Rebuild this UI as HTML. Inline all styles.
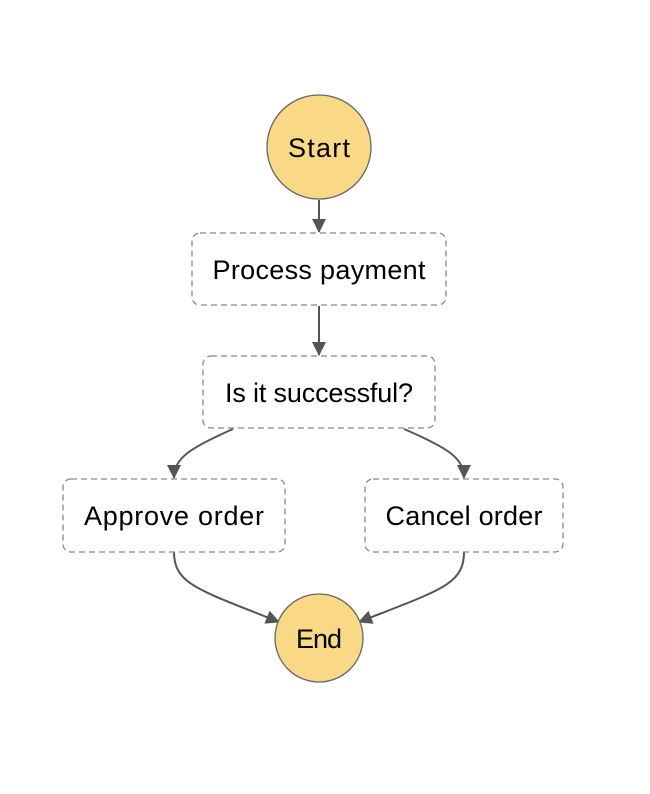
<!DOCTYPE html>
<html><head><style>
html,body{margin:0;padding:0;background:#fff;}
svg{display:block;}
text{font-family:"Liberation Sans",sans-serif;font-size:27px;fill:#000;text-anchor:middle;dominant-baseline:central;}
</style></head><body>
<svg width="650" height="794" viewBox="0 0 650 794">
<defs>
<marker id="b" markerWidth="14" markerHeight="14" refX="13" refY="7" orient="auto" markerUnits="userSpaceOnUse"><path d="M0,0 L14,7 L0,14 z" fill="#555"/></marker></defs>
<g stroke="#555" stroke-width="2" fill="none">
<path d="M319,200 L319,232" marker-end="url(#b)"/>
<path d="M319,306 L319,355" marker-end="url(#b)"/>
<path d="M233,429 C190,448 174,458 174,478" marker-end="url(#b)"/>
<path d="M404,429 C448,448 464,458 464,478" marker-end="url(#b)"/>
<path d="M174,552 C174,585 200,590 279,622" marker-end="url(#b)"/>
<path d="M464,552 C464,585 440,590 359,622" marker-end="url(#b)"/>
</g>
<circle cx="319" cy="147" r="52" fill="#f9d985" stroke="#666" stroke-width="1.3"/>
<circle cx="319" cy="638" r="44" fill="#f9d985" stroke="#666" stroke-width="1.3"/>
<g fill="#fff" stroke="#888" stroke-width="1.3" stroke-dasharray="6,4">
<rect x="192" y="233" width="254" height="72" rx="8"/>
<rect x="203" y="356" width="232" height="72" rx="8"/>
<rect x="63" y="479" width="222" height="73" rx="8"/>
<rect x="365" y="479" width="198" height="73" rx="8"/>
</g>
<text x="319" y="148" textLength="62">Start</text>
<text x="319" y="270" textLength="213">Process payment</text>
<text x="319" y="393" textLength="188">Is it successful?</text>
<text x="174" y="516" textLength="180">Approve order</text>
<text x="464" y="516" textLength="157">Cancel order</text>
<text x="319" y="639" textLength="46">End</text>
</svg>
</body></html>
